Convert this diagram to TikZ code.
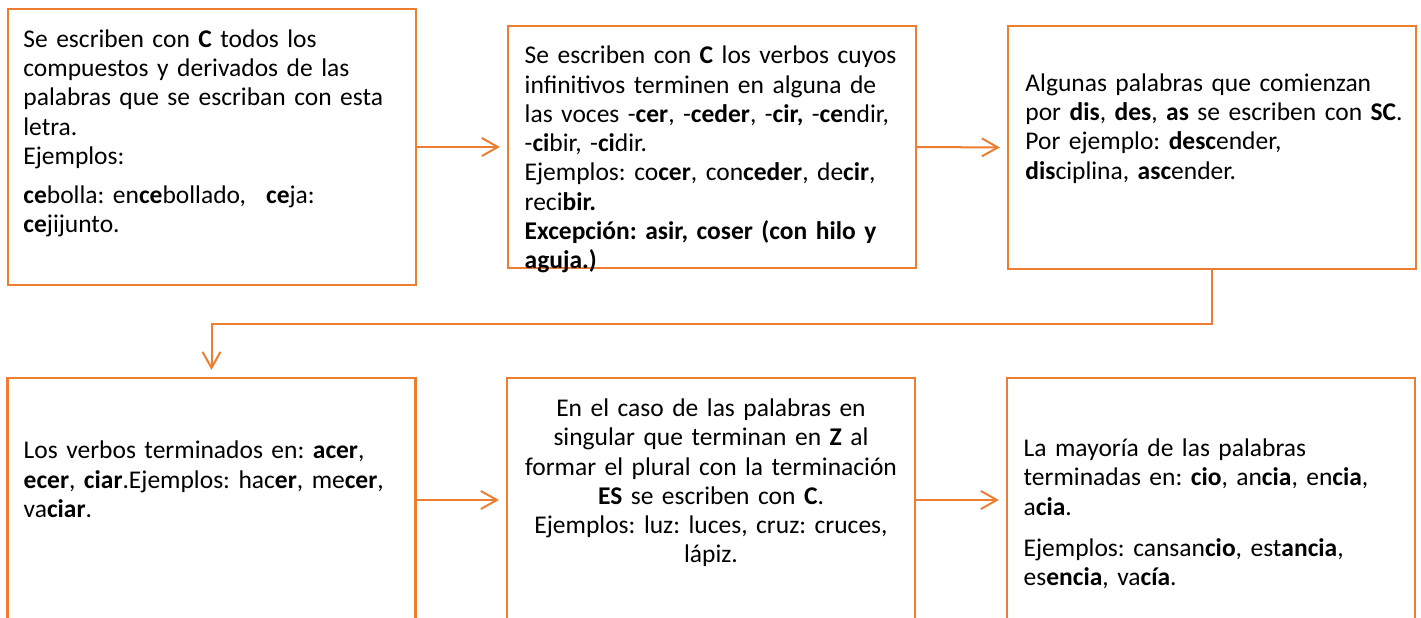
\documentclass[tikz,border=0pt]{standalone}
\usepackage{fontspec}
\setmainfont{Carlito}
\usetikzlibrary{arrows.meta}
\definecolor{naranja}{HTML}{ED7D31}
\tikzset{
    caja/.style={draw=naranja, line width=1.1pt, inner sep=0pt, minimum width=204pt},
    texto/.style={anchor=north west, inner sep=0pt, align=left, text width=200pt,
        font=\fontsize{12.75}{14.65}\selectfont\frenchspacing},
    flecha/.style={draw=naranja, line width=1pt, -{Straight Barb[length=8pt,width=9pt]}, shorten >=3.5pt},
}

\begin{document}
\begin{tikzpicture}[x=0.5pt,y=-0.5pt]
    \useasboundingbox (0,0) rectangle (1421,617);
    %Cajas
        \node[caja, minimum height=138pt] (b1) at (212,147) {};
        \node[caja, minimum height=121pt] (b2) at (712,147) {};
        \node[caja, minimum height=121.5pt] (b3) at (1212,147.5) {};
        \node[caja, minimum height=122pt] (b4) at (211.5,500) {};
        \node[caja, minimum height=122pt] (b5) at (711,500) {};
        \node[caja, minimum height=122pt] (b6) at (1211,500) {};
    %Textos
        \node[texto] (t1) at (23,26.2) {\strut Se escriben con \textbf{C} todos los\\
            compuestos y derivados de las\\
            palabras que se escriban con esta\\
            letra.\\
            Ejemplos:\\[4.85pt]
            \textbf{ce}bolla: en\textbf{ce}bollado,\hspace{10pt}\textbf{ce}ja:\\
            \textbf{ce}jijunto.};
        \node[texto] (t2) at (524.3,42.8) {\strut Se escriben con \textbf{C} los verbos cuyos\\
            infinitivos terminen en alguna de\\
            las voces -\textbf{cer}, -\textbf{ceder}, -\textbf{cir,} -\textbf{ce}ndir,\\
            -\textbf{ci}bir, -\textbf{ci}dir.\\
            Ejemplos: co\textbf{cer}, con\textbf{ceder}, de\textbf{cir},\\
            reci\textbf{bir.}\\
            \textbf{Excepción: asir, coser (con hilo y}\\
            \textbf{aguja.)}};
        \node[texto] (t3) at (1025,70.2) {\strut Algunas palabras que comienzan\\
            por \textbf{dis}, \textbf{des}, \textbf{as} se escriben con \textbf{SC}.\\
            Por ejemplo: \textbf{desc}ender,\\
            \textbf{dis}ciplina, \textbf{asc}ender.};
        \node[texto] (t4) at (23.3,437.8) {\strut Los verbos terminados en: \textbf{acer},\\
            \textbf{ecer}, \textbf{ciar}.Ejemplos: hac\textbf{er}, me\textbf{cer},\\
            va\textbf{ciar}.};
        \node[texto, anchor=north, align=center] (t5) at (711,395.5) {\strut En el caso de las palabras en\\
            singular que terminan en \textbf{Z} al\\
            formar el plural con la terminación\\
            \textbf{ES} se escriben con \textbf{C}.\\
            Ejemplos: luz: luces, cruz: cruces,\\
            lápiz.};
        \node[texto] (t6) at (1023.3,435.5) {\strut La mayoría de las palabras\\
            terminadas en: \textbf{cio}, an\textbf{cia}, en\textbf{cia},\\
            a\textbf{cia}.\\[6pt]
            Ejemplos: cansan\textbf{cio}, est\textbf{ancia},\\
            es\textbf{encia}, va\textbf{cía}.};
    %Flechas
        \draw[flecha] (b1.east) -- (b2.west);
        \draw[flecha] (b2.east) -- (b3.west);
        \draw[flecha] (b3.south) -- ++(0,54) -| (b4.north);
        \draw[flecha] (b4.east) -- (b5.west);
        \draw[flecha] (b5.east) -- (b6.west);
\end{tikzpicture}
\end{document}
